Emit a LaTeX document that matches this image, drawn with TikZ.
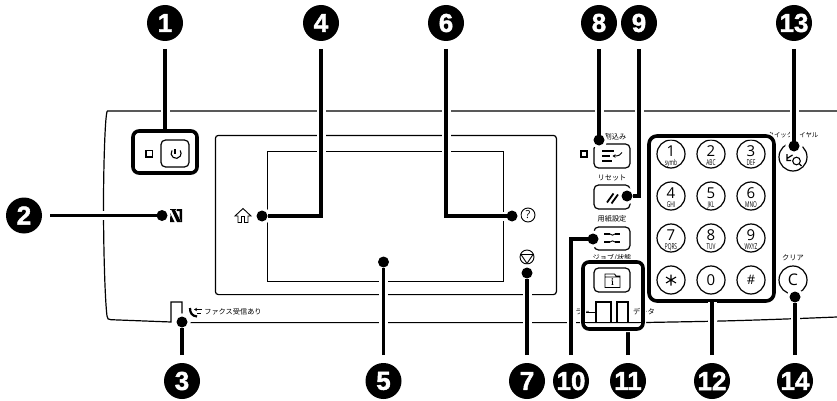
\documentclass[tikz,border=0pt]{standalone}
\usetikzlibrary{arrows.meta}
\usepackage{fontspec}
\usepackage{graphicx}
\setmainfont{Liberation Sans}
\newfontfamily\cjk{Noto Sans CJK JP}
\newfontfamily\numfont[FakeBold=1.6]{Liberation Sans Bold}
\newfontfamily\keyfont{Open Sans}
\tikzset{
  callout/.style={circle,fill=black,text=white,minimum size=36pt,inner sep=0pt,outer sep=8pt,font=\numfont\fontsize{26}{26}\selectfont},
  dotnode/.style={circle,fill=black,minimum size=11pt,inner sep=0pt,outer sep=0pt,preaction={draw=white,line width=6pt}},
  leader/.style={line width=3.6pt,black,preaction={draw=white,line width=9pt}},
  panel/.style={line width=1.2pt,black},
  thickbox/.style={line width=3.6pt,rounded corners=6pt,black},
  btn/.style={line width=1.2pt,rounded corners=4.5pt,black,fill=white},
  lbl/.style={font=\cjk\fontsize{7.2}{8}\selectfont,inner sep=0pt,text=black},
  keycircle/.style={circle,draw=black,line width=1.2pt,minimum size=28pt,inner sep=0pt,fill=white},
  digit/.style={font=\keyfont\fontsize{15}{15}\selectfont,inner sep=0pt},
  sub/.style={font=\keyfont\fontsize{8}{8}\selectfont,inner sep=0pt},
  icon/.style={line width=.9pt,black},
  iconthick/.style={line width=1.6pt,black}
}
\newcommand{\subkey}[1]{\scalebox{.6}[1]{#1}}
\begin{document}
\begin{tikzpicture}[x=1pt,y=-1pt]
\useasboundingbox (0,0) rectangle (837,401);
% panel outline
\draw[panel] (837,111) -- (107.5,111) .. controls (105,111) and (103.5,170) .. (103.5,205) .. controls (103.5,250) and (105,300) .. (107,316) .. controls (107.5,319) and (108,319.5) .. (111,319.7) -- (171,322) -- (171,302) -- (182,302) -- (182,322);
\draw[panel] (182,322.6) -- (640,322.6) -- (700,321.5) .. controls (750,320.5) and (800,318.5) .. (837,317);
% screen
\draw[panel,rounded corners=3pt] (215.4,135.4) rectangle (556.4,294.6);
\draw[panel,line width=1.1pt] (267.4,151.4) rectangle (503.4,281.6);
% labels below halos
\node[lbl] (tfax) at (233,312) {ファクス受信あり};
\node[lbl] (tint) at (615.5,137) {割込み};
\node[lbl] (treset) at (612,178) {リセット};
\node[lbl] (tpaper) at (612,219) {用紙設定};
\node[lbl] (tjob) at (612,258) {ジョブ/状態};
\node[lbl,anchor=east] (tcolor) at (590,312) {カラー};
\node[lbl,anchor=west] (tdata) at (633,312) {データ};
\node[lbl,font=\cjk\fontsize{6.4}{8}\selectfont] (tquick) at (793,135) {クイックダイヤル};
\node[lbl] (tclear) at (793,258) {クリア};
% power group
\draw[line width=1.3pt] (146,150.5) rectangle (152.5,157);
\draw[btn] (161,140) rectangle (189,167);
\draw[icon,line width=1.1pt] (175,149) -- (175,154);
\draw[icon,line width=1.1pt] (172,150.5) arc[start angle=215,end angle=-35,radius=5];
% buttons
\draw[icon,line width=1.4pt] (581,151) rectangle (587,157);
\draw[btn] (594,144) rectangle (630,168);
\draw[btn] (594,185) rectangle (630,209);
\draw[btn] (594,227) rectangle (630,250);
% keypad
\node[keycircle] (k1) at (671,154) {}; \node[digit] at (671,151.5) {1}; \node[sub] at (671,163) {\subkey{symb}};
\node[keycircle] (k2) at (711,154) {}; \node[digit] at (711,151.5) {2}; \node[sub] at (711,163) {\subkey{ABC}};
\node[keycircle] (k3) at (751,154) {}; \node[digit] at (751,151.5) {3}; \node[sub] at (751,163) {\subkey{DEF}};
\node[keycircle] (k4) at (671,196) {}; \node[digit] at (671,193.5) {4}; \node[sub] at (671,205) {\subkey{GHI}};
\node[keycircle] (k5) at (711,196) {}; \node[digit] at (711,193.5) {5}; \node[sub] at (711,205) {\subkey{JKL}};
\node[keycircle] (k6) at (751,196) {}; \node[digit] at (751,193.5) {6}; \node[sub] at (751,205) {\subkey{MNO}};
\node[keycircle] (k7) at (671,238) {}; \node[digit] at (671,235.5) {7}; \node[sub] at (671,247) {\subkey{PQRS}};
\node[keycircle] (k8) at (711,238) {}; \node[digit] at (711,235.5) {8}; \node[sub] at (711,247) {\subkey{TUV}};
\node[keycircle] (k9) at (751,238) {}; \node[digit] at (751,235.5) {9}; \node[sub] at (751,247) {\subkey{WXYZ}};
\node[keycircle] (kstar) at (671,280) {};
\draw[line width=1.1pt] (671,274.5) -- (671,285.5) (666,277) -- (676,283) (666,283) -- (676,277);
\node[keycircle] (k0) at (711,280) {}; \node[digit] at (711,280) {0};
\node[keycircle] (khash) at (751,280) {};
\node[font=\keyfont\fontsize{13}{13}\selectfont,inner sep=0pt] at (751,280) {\#};
\draw[line width=7pt,white,rounded corners=8pt] (649,136) rectangle (774,301);
\draw[thickbox,rounded corners=8pt] (649,136) rectangle (774,301);
\coordinate (kpadb) at (712,302);
% round buttons
\node[keycircle] (kquick) at (793,157) {};
\node[keycircle] (kclear) at (793,280) {};
\node[font=\keyfont\fontsize{16}{16}\selectfont,inner sep=0pt] at (793,280) {C};
% icons: NFC
\fill (170,209) -- (176,209) -- (176,210) -- (170,210) -- cycle;
\fill (171,209) -- (174.5,209) -- (181,222) -- (177,222) -- cycle;
\fill (176.5,209) -- (182,209) -- (182,222) -- (181,222) -- (179.5,217) -- (179.5,211) -- (176.5,211) -- cycle;
\fill (170,213) -- (174.5,222) -- (170,222) -- cycle;
% home
\draw[icon] (235,216) -- (243,208.5) -- (251,216) -- (248,216) -- (248,222.5) -- (244.5,222.5) -- (244.5,216.5) -- (241.5,216.5) -- (241.5,222.5) -- (238,222.5) -- (238,216) -- cycle;
% help
\node[circle,draw,line width=.9pt,minimum size=14pt,inner sep=0pt,font=\keyfont\fontsize{11}{11}\selectfont] (ihelp) at (528,215) {?};
% stop
\node[circle,draw,line width=.9pt,minimum size=14pt,inner sep=0pt] (istop) at (527,257) {};
\draw[icon] (521,254.5) -- (533,254.5) -- (527,263.5) -- cycle;
% fax icon
\draw[line width=2.2pt] (190,308) .. controls (190,313) and (192,316) .. (197,316.5);
\draw[line width=1pt,-{Stealth[length=3pt,width=3.5pt]}] (202,309.5) -- (194,309.5);
\draw[line width=1.1pt] (197,313.5) -- (201,313.5);
% callouts and dots
\node[callout] (c1) at (165,23) {1};
\node[callout] (c4) at (321,23) {4};
\node[callout] (c6) at (446,23) {6};
\node[callout] (c8) at (599,23) {8};
\node[callout] (c9) at (639,23) {9};
\node[callout] (c13) at (794,23) {13};
\node[callout] (c2) at (24,215.5) {2};
\node[callout] (c3) at (182,381) {3};
\node[callout] (c5) at (383.5,381) {5};
\node[callout] (c7) at (527,381) {7};
\node[callout] (c10) at (571,381) {10};
\node[callout] (c11) at (628,381) {11};
\node[callout] (c12) at (712,381) {12};
\node[callout] (c14) at (795,381) {14};
\coordinate (d1) at (165,131);
\coordinate (d11) at (628,329);
\node[dotnode] (d2) at (162,215.5) {};
\node[dotnode] (d3) at (182,322) {};
\node[dotnode] (d4) at (262,216) {};
\node[dotnode] (d5) at (383.5,262) {};
\node[dotnode] (d6) at (512,216) {};
\node[dotnode] (d7) at (527,273) {};
\node[dotnode] (d8) at (599,140) {};
\node[dotnode] (d9) at (627,196) {};
\node[dotnode] (d10) at (593,239) {};
\node[dotnode] (d13) at (794,146) {};
\node[dotnode] (d14) at (795,297) {};
% leaders
\draw[leader] (c1) -- (d1);
\draw[leader] (c2) -- (d2);
\draw[leader] (c3) -- (d3);
\draw[leader] (c4) |- (d4);
\draw[leader] (c5) -- (d5);
\draw[leader] (c6) |- (d6);
\draw[leader] (c7) -- (d7);
\draw[leader] (c8) -- (d8);
\draw[leader] (c9) |- (d9);
\draw[leader] (c10) |- (d10);
\draw[leader] (c11) -- (d11);
\draw[leader] (c12) -- (kpadb);
\draw[leader] (c13) -- (d13);
\draw[leader] (c14) -- (d14);
% power box on top
\draw[thickbox] (133,131) rectangle (197,173);
% job group
\draw[line width=6pt,white,rounded corners=6pt] (583,262) rectangle (643,329);
\draw[thickbox] (583,262) rectangle (643,329);
\draw[btn,line width=1.2pt] (594,268) rectangle (630,292);
\draw[icon] (605,274) -- (605,287.5) -- (620,287.5) -- (620,276) -- (616,276) -- (614.5,274) -- cycle (605,277) -- (620,277);
\node[font=\fontfamily{lmr}\bfseries\fontsize{10}{10}\selectfont,inner sep=0pt] (iinfo) at (612.5,282.5) {i};
\draw[line width=1.2pt,fill=white] (596,322) -- (596,302) -- (611,302) -- (611,322);
\draw[line width=1.2pt,fill=white] (617,322) -- (617,302) -- (628,302) -- (628,322);
\draw[panel] (585,322.6) -- (641,322.6);
\draw[line width=.9pt] (586,312) -- (596,312);
% button icons (on top of leaders)
\draw[iconthick] (602,151) -- (614,151) (602,156) -- (610,156) (602,161) -- (612,161);
\draw[line width=.9pt,-{Stealth[length=3pt,width=3.5pt]}] (622,152.5) .. controls (621,155) and (618,156) .. (612.5,156);
\draw[line width=1.8pt] (607,202.5) -- (613.5,193.5) (611.5,203.5) -- (618,194.5);
\draw[line width=2.2pt] (604,234) -- (610,234) (615,234) -- (620,234) (604,242) -- (610,242) (615,242) -- (620,242);
\draw[icon] (610,234) .. controls (611,235.5) and (614,235.5) .. (615,234);
\draw[icon] (610,242) .. controls (611,240.5) and (614,240.5) .. (615,242);
% quick dial icon
\draw[line width=1.2pt] (787,154) -- (787,160.5) -- (791,160.5) (787,158.5) -- (792.5,155);
\draw[line width=1.1pt] (796.5,161) circle (3.8pt);
\draw[line width=1.1pt] (799.5,164) -- (801.5,166);
\end{tikzpicture}
\end{document}
